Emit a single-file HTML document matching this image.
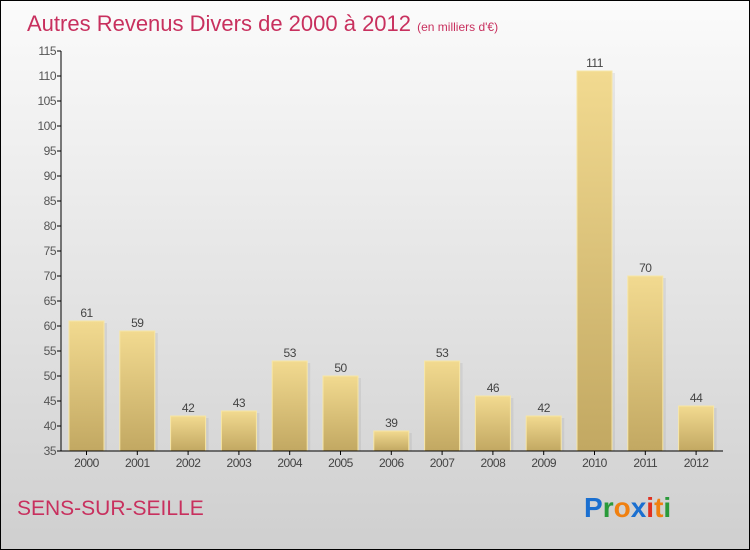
<!DOCTYPE html>
<html><head><meta charset="utf-8"><style>
body{margin:0}
#c{width:748px;height:548px;border:1px solid #000;background:linear-gradient(#fbfbfb,#cfcfcf);position:relative;font-family:"Liberation Sans",sans-serif;overflow:hidden}
</style></head><body>
<div id="c">
<svg id="s" width="748" height="548" style="position:absolute;left:0;top:0">
<defs>
<linearGradient id="g" x1="0" y1="0" x2="0" y2="1"><stop offset="0" stop-color="#f2da90"/><stop offset="1" stop-color="#c2a862"/></linearGradient>
</defs>
<text x="26" y="30" font-size="22" fill="#c8305e">Autres Revenus Divers de 2000 à 2012 <tspan font-size="12">(en milliers d'€)</tspan></text>
<text x="16" y="514" font-size="21" fill="#c8305e">SENS-SUR-SEILLE</text>
<g font-size="28" font-weight="bold" font-family="'Liberation Sans',sans-serif">
<text x="583" y="516"><tspan fill="#1a6fd0">P</tspan><tspan fill="#2a9a3a">r</tspan><tspan fill="#f08010">o</tspan><tspan fill="#1a6fd0">x</tspan><tspan fill="#e03020">i</tspan><tspan fill="#f08010">t</tspan><tspan fill="#2a9a3a">i</tspan></text>
</g>
</svg>
</div>
<script>
const years=["2000","2001","2002","2003","2004","2005","2006","2007","2008","2009","2010","2011","2012"];
const values=[61,59,42,43,53,50,39,53,46,42,111,70,44];
const yTicks=[35,40,45,50,55,60,65,70,75,80,85,90,95,100,105,110,115];
const s=document.getElementById('s');
const NS='http://www.w3.org/2000/svg';
const y=v=>450-(v-35)*5;
const x=i=>85.5+i*50.8;
function mk(t,a){const e=document.createElementNS(NS,t);for(const k in a)e.setAttribute(k,a[k]);s.appendChild(e);return e;}
yTicks.forEach(t=>{
 const l=mk('line',{x1:56,x2:60,y1:y(t),y2:y(t),stroke:'#000'});
 
 
 const tx=mk('text',{x:55,y:y(t)+4,'font-size':12,fill:'#555','text-anchor':'end','letter-spacing':'-0.5'});
 tx.textContent=t;
 
 
});
values.forEach((v,i)=>{
 const sh=mk('rect',{x:x(i)-17.5+3,y:y(v)+2,width:35,height:450-y(v)-2,fill:'#000',opacity:0.06});
 
 
 const r=mk('rect',{x:x(i)-17.5,y:y(v),width:35,height:450-y(v),fill:'url(#g)',stroke:'#f7e6a6','stroke-width':1});
 
 
 const vt=mk('text',{x:x(i),y:y(v)-4,'font-size':12,fill:'#444','text-anchor':'middle','letter-spacing':'-0.5'});
 vt.textContent=v;
 
 
 const tk=mk('line',{x1:x(i),x2:x(i),y1:450,y2:454,stroke:'#000'});
 
 
 const xt=mk('text',{x:x(i),y:466,'font-size':12,fill:'#444','text-anchor':'middle','letter-spacing':'-0.5'});
 xt.textContent=years[i];
 
 
});
const ya=mk('line',{x1:60,x2:60,y1:50,y2:450,stroke:'#000'});


const xa=mk('line',{x1:60,x2:722,y1:450,y2:450,stroke:'#000'});


</script>
</body></html>
